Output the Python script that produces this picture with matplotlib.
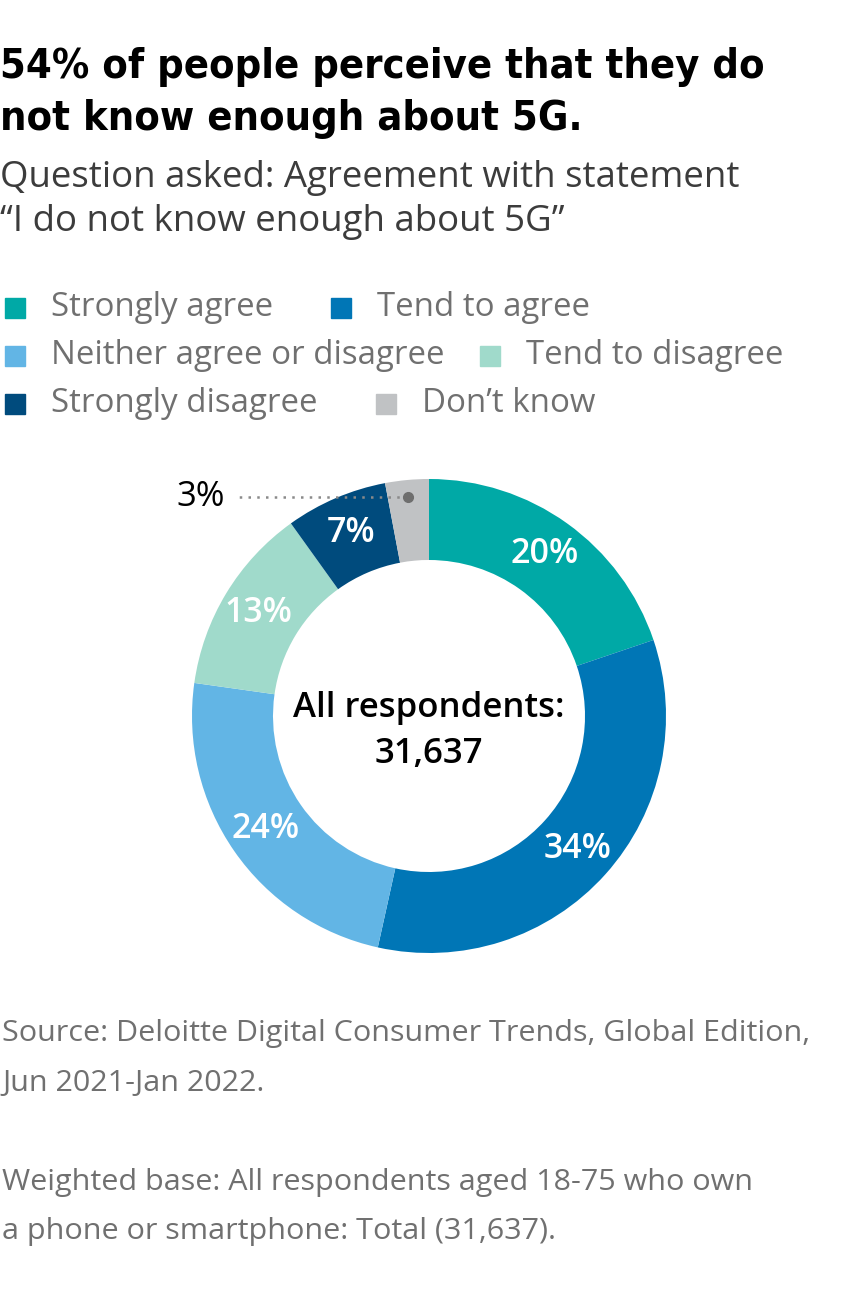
import matplotlib.pyplot as plt
import numpy as np
from matplotlib.patches import Rectangle
from matplotlib import font_manager as fm

# Data
categories = ['Strongly agree', 'Tend to agree', 'Neither agree or disagree',
              'Tend to disagree', 'Strongly disagree', "Don\u2019t know"]
values = [20, 34, 24, 13, 7, 3]
colors = ['#00A9A6', '#0076B6', '#62B5E5', '#A0DACB', '#004B7D', '#C0C2C4']
total_label = 'All respondents:\n31,637'
title_lines = ['54% of people perceive that they do', 'not know enough about 5G.']
subtitle_lines = ['Question asked: Agreement with statement',
                  '\u201cI do not know enough about 5G\u201d']
footer_lines = ['Source: Deloitte Digital Consumer Trends, Global Edition,',
                'Jun 2021-Jan 2022.',
                'Weighted base: All respondents aged 18-75 who own',
                'a phone or smartphone: Total (31,637).']

W, H = 854, 1311
fig = plt.figure(figsize=(W / 100, H / 100), dpi=100)
fig.patch.set_facecolor('white')
renderer = fig.canvas.get_renderer()


def fy(py):
    return 1 - py / H


def fx(px):
    return px / W


def fit_width(t, target):
    # scale font size so the text spans target pixels
    w = t.get_window_extent(renderer).width
    t.set_fontsize(t.get_fontsize() * target / w)
    return t.get_fontsize()


# look for a condensed bold face for the title
title_prop = fm.FontProperties(family='Open Sans', weight='bold')
for f in fm.fontManager.ttflist:
    nm = f.name.lower()
    if ('narrow' in nm or 'condensed' in nm or 'condensed' in str(f.stretch)) \
            and str(f.weight) in ('700', 'bold'):
        title_prop = fm.FontProperties(fname=f.fname)
        break

# Title and subtitle
t1 = fig.text(fx(0), fy(78), title_lines[0], fontproperties=title_prop,
              fontsize=36, color='#000000', va='baseline')
fs = fit_width(t1, 762)
fig.text(fx(0), fy(130), title_lines[1], fontproperties=title_prop,
         fontsize=fs, color='#000000', va='baseline')

s1 = fig.text(fx(0), fy(187), subtitle_lines[0], fontsize=24,
              family='Open Sans', color='#3C3C3C', va='baseline')
fs = fit_width(s1, 742)
fig.text(fx(0), fy(231), subtitle_lines[1], fontsize=fs,
         family='Open Sans', color='#3C3C3C', va='baseline')

# Legend (flowing rows)
legend_rows = [[0, 1], [2, 3], [4, 5]]
row_y = [308, 356, 404]
col_x = [[5, 331], [5, 480], [5, 376]]
sq = 20
for row, ry, xs in zip(legend_rows, row_y, col_x):
    for idx, x0 in zip(row, xs):
        fig.patches.append(Rectangle((fx(x0), fy(ry + sq / 2)), sq / W, sq / H,
                                     transform=fig.transFigure,
                                     color=colors[idx], figure=fig))
        fig.text(fx(x0 + 46), fy(ry - 1), categories[idx], fontsize=23.8,
                 family='Open Sans', color='#707070', va='center')

# Donut
cx, cy, R = 429, 716, 237
half = 300
ax = fig.add_axes([fx(cx - half), fy(cy + half), 2 * half / W, 2 * half / H])
inner = 156 / R
wedges, _ = ax.pie(values, colors=colors, startangle=90, counterclock=False,
                   radius=1, wedgeprops=dict(width=1 - inner, linewidth=0))
lim = half / R
ax.set_xlim(-lim, lim)
ax.set_ylim(-lim, lim)
ax.set_aspect('equal')
ax.axis('off')

label_r = 0.84
for w, v in zip(wedges, values):
    ang = np.deg2rad((w.theta1 + w.theta2) / 2)
    if v < 5:
        # small slice: callout to the left
        px, py = 0.93 * np.cos(ang), 0.93 * np.sin(ang)
        ax.plot([px, -0.82], [py, py], linestyle=(0, (1, 2.5)), color='#8A8A8A', lw=1.8)
        ax.plot(px, py, 'o', color='#6E6E6E', ms=7)
        ax.text(-0.86, py, f'{v}%', ha='right', va='center', fontsize=25,
                family='Open Sans', color='#000000')
        continue
    ax.text(label_r * np.cos(ang), label_r * np.sin(ang), f'{v}%',
            ha='center', va='center', fontsize=24.5, fontweight='semibold',
            family='Open Sans', color='white')

ax.text(0, -15 / R, total_label, ha='center', va='center', fontsize=25,
        fontweight='semibold', family='Open Sans', color='#000000',
        linespacing=1.45)

# Footer
foot = dict(fontsize=21.8, family='Open Sans', color='#707070', va='baseline')
f1 = fig.text(fx(2), fy(1041), footer_lines[0], **foot)
fs = fit_width(f1, 806)
foot['fontsize'] = fs
fig.text(fx(2), fy(1091), footer_lines[1], **foot)
fig.text(fx(2), fy(1190), footer_lines[2], **foot)
fig.text(fx(2), fy(1239), footer_lines[3], **foot)

fig.savefig('out.png', dpi=100, facecolor='white')
